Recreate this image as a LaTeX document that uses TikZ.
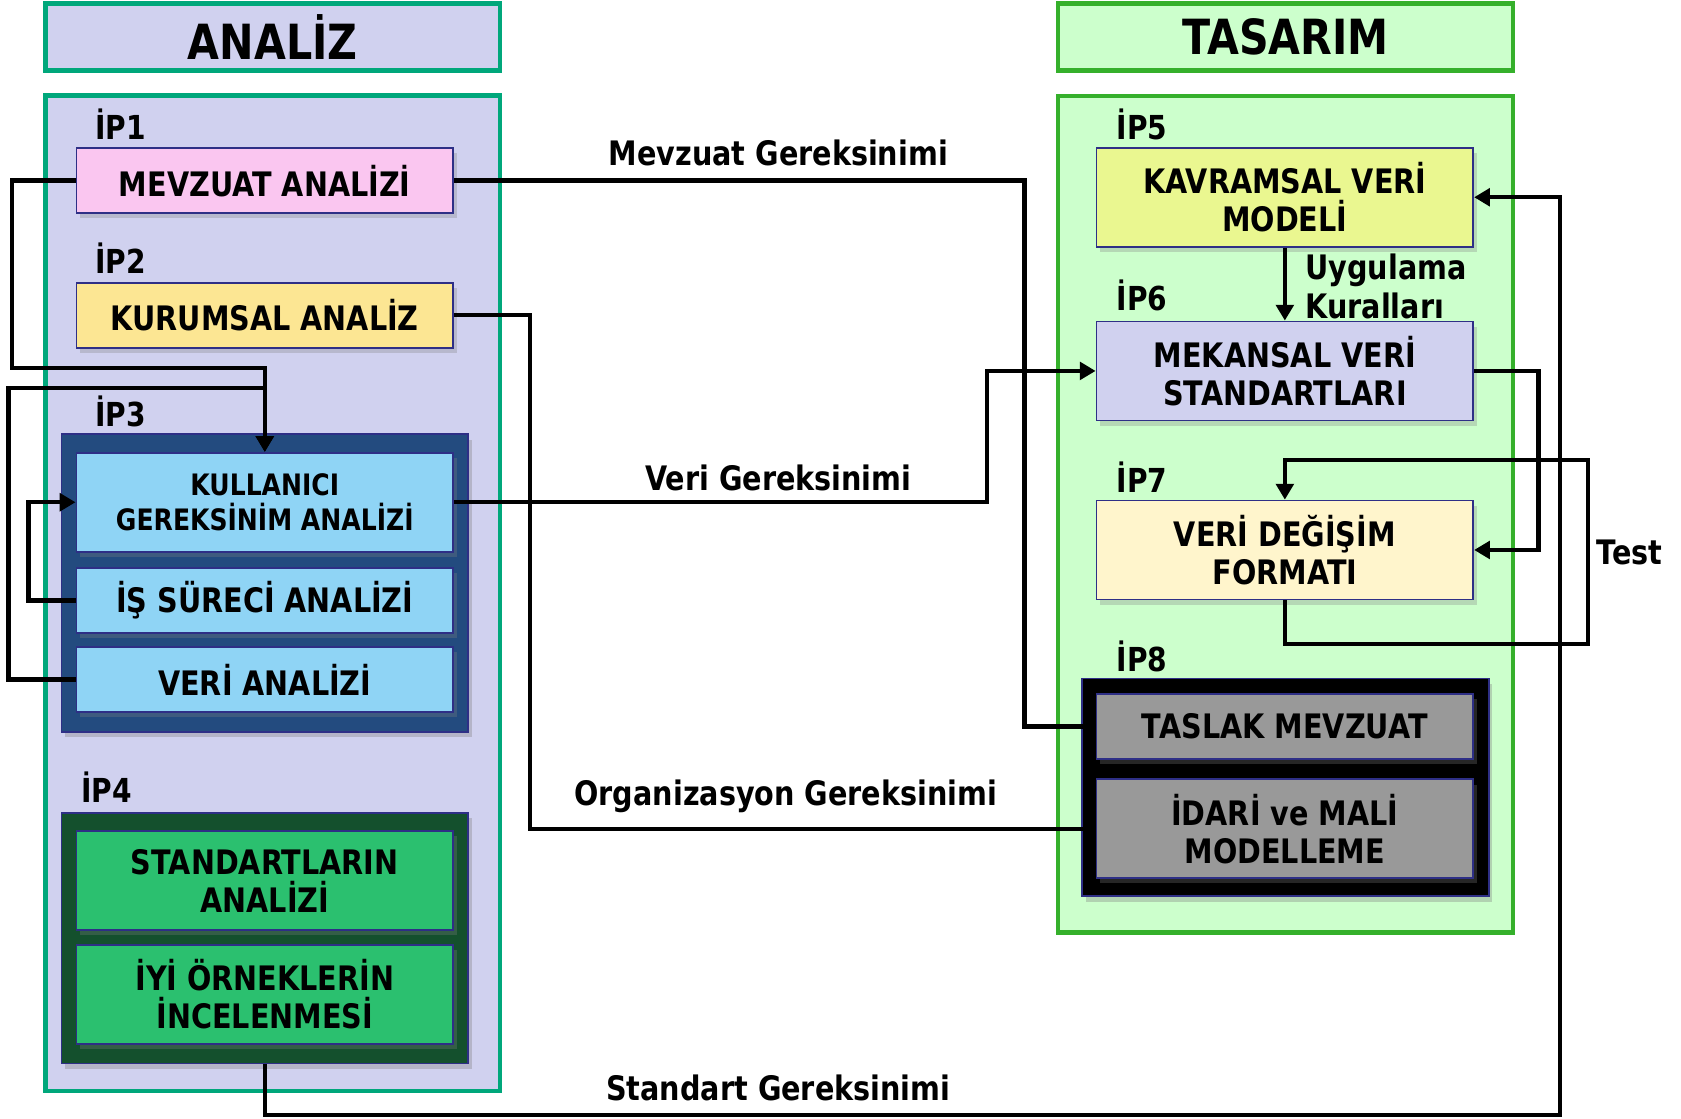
\documentclass[tikz,border=0pt]{standalone}
\usepackage{fontspec}
\setmainfont{DejaVu Sans}[FakeStretch=0.85]
\usetikzlibrary{arrows.meta}
\usetikzlibrary{shadows}

\definecolor{lav}{HTML}{D0D1EF}
\definecolor{tealg}{HTML}{00A77B}
\definecolor{mint}{HTML}{CCFFCC}
\definecolor{greenb}{HTML}{35B02B}
\definecolor{navy}{HTML}{2E2F86}
\definecolor{pinkbox}{HTML}{FAC6F0}
\definecolor{yelbox}{HTML}{FCE693}
\definecolor{bluegrp}{HTML}{234B7F}
\definecolor{bluebox}{HTML}{8FD4F5}
\definecolor{greengrp}{HTML}{14502D}
\definecolor{greenbox}{HTML}{2BC06F}
\definecolor{kavbox}{HTML}{EAF790}
\definecolor{creambox}{HTML}{FFF5CC}
\definecolor{graybox}{HTML}{999999}

\tikzset{
	panel/.style = {line width=1.3pt, inner sep=0pt, minimum width=4.55cm, font=\fontsize{13.8}{16}\selectfont\bfseries},
	group/.style = {draw=navy, line width=0.5pt, inner sep=0pt, minimum width=4.07cm, drop shadow={shadow xshift=1pt, shadow yshift=-1.5pt, opacity=0.35}},
	box/.style = {draw=navy, line width=0.5pt, inner sep=0pt, minimum width=3.77cm, align=center, font=\fontsize{9.6}{10.8}\selectfont\bfseries, drop shadow={shadow xshift=1pt, shadow yshift=-1.5pt, opacity=0.3}},
	lowbox/.style = {minimum height=0.65cm},
	highbox/.style = {minimum height=0.99cm},
	iplbl/.style = {anchor=west, inner sep=0pt, font=\fontsize{9.4}{11}\selectfont\bfseries},
	lbl/.style = {inner sep=0pt, font=\fontsize{9.6}{11.2}\selectfont\bfseries},
	conn/.style = {line width=1.25pt, black},
	arr/.style = {-{Triangle[length=4.5pt, width=5pt]}}
}

\begin{document}
\begin{tikzpicture}[x=0.01072cm, y=-0.01072cm]
		\useasboundingbox (0,0) rectangle (1568,1043);
		% panels
		\node[panel, draw=tealg, fill=lav, minimum height=0.675cm] (analiz) at (254.5,34.5) {ANALİZ};
		\node[panel, draw=tealg, fill=lav, minimum height=9.96cm] (sol) at (254.5,553.5) {};
		\node[panel, draw=greenb, fill=mint, minimum height=0.675cm] (tasarim) at (1199,34.5) {TASARIM};
		\node[panel, draw=greenb, fill=mint, minimum height=8.37cm] (sag) at (1199,479.5) {};
		
		% analiz side
		\node[iplbl] (ip1) at (88,116) {İP1};
		\node[box, lowbox, fill=pinkbox] (mevzuat) at (247,168.5) {MEVZUAT ANALİZİ};
		\node[iplbl] (ip2) at (88,241) {İP2};
		\node[box, lowbox, fill=yelbox] (kurumsal) at (247,294) {KURUMSAL ANALİZ};
		\node[iplbl] (ip3) at (88,384) {İP3};
		\node[group, fill=bluegrp, minimum height=2.98cm] (ipuc) at (247,544) {};
		\node[box, highbox, fill=bluebox, font=\fontsize{8.4}{10}\selectfont\bfseries] (kullanici) at (247,468.5) {KULLANICI\\GEREKSİNİM ANALİZİ};
		\node[box, lowbox, fill=bluebox] (surec) at (247,560) {İŞ SÜRECİ ANALİZİ};
		\node[box, lowbox, fill=bluebox] (veri) at (247,634) {VERİ ANALİZİ};
		\node[iplbl] (ip4) at (75,734) {İP4};
		\node[group, fill=greengrp, minimum height=2.51cm] (ipdort) at (247,875) {};
		\node[box, highbox, fill=greenbox] (standart) at (247,821.5) {STANDARTLARIN\\ANALİZİ};
		\node[box, highbox, fill=greenbox] (ornek) at (247,927.5) {İYİ ÖRNEKLERİN\\İNCELENMESİ};
		
		% tasarim side
		\node[iplbl] (ip5) at (1041,116) {İP5};
		\node[box, highbox, fill=kavbox] (kavramsal) at (1198.5,184) {KAVRAMSAL VERİ\\MODELİ};
		\node[iplbl] (ip6) at (1041,276) {İP6};
		\node[box, highbox, fill=lav] (mekansal) at (1198.5,346) {MEKANSAL VERİ\\STANDARTLARI};
		\node[iplbl] (ip7) at (1041,445) {İP7};
		\node[box, highbox, fill=creambox] (degisim) at (1198.5,513) {VERİ DEĞİŞİM\\FORMATI};
		\node[iplbl] (ip8) at (1041,612) {İP8};
		\node[group, fill=black, minimum height=2.18cm] (ipsekiz) at (1199,734.5) {};
		\node[box, lowbox, fill=graybox] (taslak) at (1198.5,677.5) {TASLAK MEVZUAT};
		\node[box, highbox, fill=graybox] (idari) at (1198.5,773) {İDARİ ve MALİ\\MODELLEME};
		
		% loops on the left
		\draw[conn, arr] (mevzuat.west) -| (11,343) -| (kullanici.north);
		\draw[conn, arr] (veri.west) -| (8,362) -| (kullanici.north);
		\draw[conn, arr] (surec.west) -- ++(-44,0) |- (kullanici.west);
		
		% requirements
		\draw[conn] (mevzuat.east) -- ++(532,0) |- (taslak.west);
		\draw[conn] (kurumsal.east) -- ++(71,0) |- (idari.west);
		\draw[conn, arr] (kullanici.east) -- ++(497,0) |- (mekansal.west);
		\draw[conn, arr] (ipdort.south) |- (1455,1040) |- (kavramsal.east);
		\node[lbl] (lmevzuat) at (726,143) {Mevzuat Gereksinimi};
		\node[lbl] (lveri) at (726,446) {Veri Gereksinimi};
		\node[lbl] (lorg) at (733,743) {Organizasyon Gereksinimi};
		\node[lbl] (lstandart) at (726,1015) {Standart Gereksinimi};
		
		% tasarim flow
		\draw[conn, arr] (kavramsal.south) -- (mekansal.north);
		\node[lbl, anchor=west, align=left] (luygulama) at (1217,267) {Uygulama\\Kuralları};
		\draw[conn, arr] (mekansal.east) -- ++(60,0) |- (degisim.east);
		\draw[conn, arr] (degisim.south) -- ++(0,41) -| (1481,429) -| (degisim.north);
		\node[lbl] (ltest) at (1520,515) {Test};
	\end{tikzpicture}
\end{document}
